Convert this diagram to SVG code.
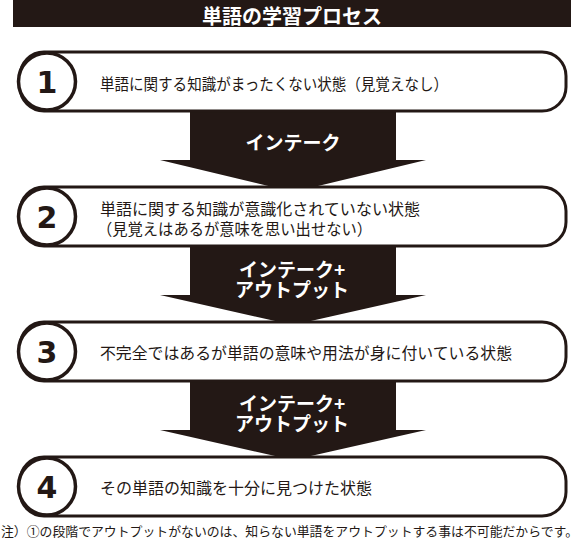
<svg xmlns="http://www.w3.org/2000/svg" width="580" height="547" viewBox="0 0 580 547">
<style>
.bg{fill:#ffffff}
.ink{fill:#231815}
.pill{fill:#ffffff;stroke:#231815;stroke-width:3}
.badge{fill:#ffffff;stroke:#231815;stroke-width:3.5}
.num{font-family:"DejaVu Sans","Liberation Sans",sans-serif;font-weight:bold;font-size:30px;fill:#231815;text-anchor:middle}
.txt{font-family:"Noto Sans CJK JP","Noto Sans",sans-serif;font-size:16px;fill:#231815}
.lbl{font-family:"Noto Sans CJK JP","Noto Sans",sans-serif;font-weight:bold;font-size:19px;fill:#ffffff;text-anchor:middle}
.title{font-family:"Noto Sans CJK JP","Noto Sans",sans-serif;font-weight:bold;font-size:20px;fill:#ffffff;text-anchor:middle}
.foot{font-family:"Noto Sans CJK JP","Noto Sans",sans-serif;font-size:12.8px;fill:#231815}
</style>
<rect class="bg" x="0" y="0" width="580" height="547"/>
<g id="header">
<rect class="ink" x="13" y="0" width="558" height="27"/>
<text class="title" x="292" y="23.5">単語の学習プロセス</text>
</g>
<g id="connectors">
<polygon class="ink" points="190,108 396,108 396,160 426,160 293,192 160,160 190,160"/>
<text class="lbl" x="293" y="149.5">インテーク</text>
<polygon class="ink" points="190,243 396,243 396,295 426,295 293,325 160,295 190,295"/>
<text class="lbl" x="292" y="276.5">インテーク+</text>
<text class="lbl" x="292" y="296.5">アウトプット</text>
<polygon class="ink" points="190,378 396,378 396,430 426,430 293,460 160,430 190,430"/>
<text class="lbl" x="292" y="411">インテーク+</text>
<text class="lbl" x="292" y="431">アウトプット</text>
</g>
<g id="node1">
<rect class="pill" x="20" y="52" width="546" height="59" rx="24"/>
<circle class="badge" cx="47" cy="81.5" r="28.5"/>
<text class="num" x="47" y="92.5">1</text>
<text class="txt" x="100" y="89.5" textLength="348" lengthAdjust="spacingAndGlyphs">単語に関する知識がまったくない状態（見覚えなし）</text>
</g>
<g id="node2">
<rect class="pill" x="20" y="187" width="546" height="59" rx="24"/>
<circle class="badge" cx="47" cy="216.5" r="28.5"/>
<text class="num" x="47" y="227.5">2</text>
<text class="txt" x="100" y="215" textLength="320" lengthAdjust="spacingAndGlyphs">単語に関する知識が意識化されていない状態</text>
<text class="txt" x="97" y="235" textLength="275" lengthAdjust="spacingAndGlyphs">（見覚えはあるが意味を思い出せない）</text>
</g>
<g id="node3">
<rect class="pill" x="20" y="322" width="546" height="59" rx="24"/>
<circle class="badge" cx="47" cy="351.5" r="28.5"/>
<text class="num" x="47" y="362.5">3</text>
<text class="txt" x="100" y="359" textLength="412" lengthAdjust="spacingAndGlyphs">不完全ではあるが単語の意味や用法が身に付いている状態</text>
</g>
<g id="node4">
<rect class="pill" x="20" y="457" width="546" height="59" rx="24"/>
<circle class="badge" cx="47" cy="486.5" r="28.5"/>
<text class="num" x="47" y="497.5">4</text>
<text class="txt" x="100" y="494" textLength="272" lengthAdjust="spacingAndGlyphs">その単語の知識を十分に見つけた状態</text>
</g>
<g id="footnote">
<text class="foot" x="1" y="536" textLength="577" lengthAdjust="spacingAndGlyphs">注）①の段階でアウトプットがないのは、知らない単語をアウトプットする事は不可能だからです。</text>
</g>
</svg>
